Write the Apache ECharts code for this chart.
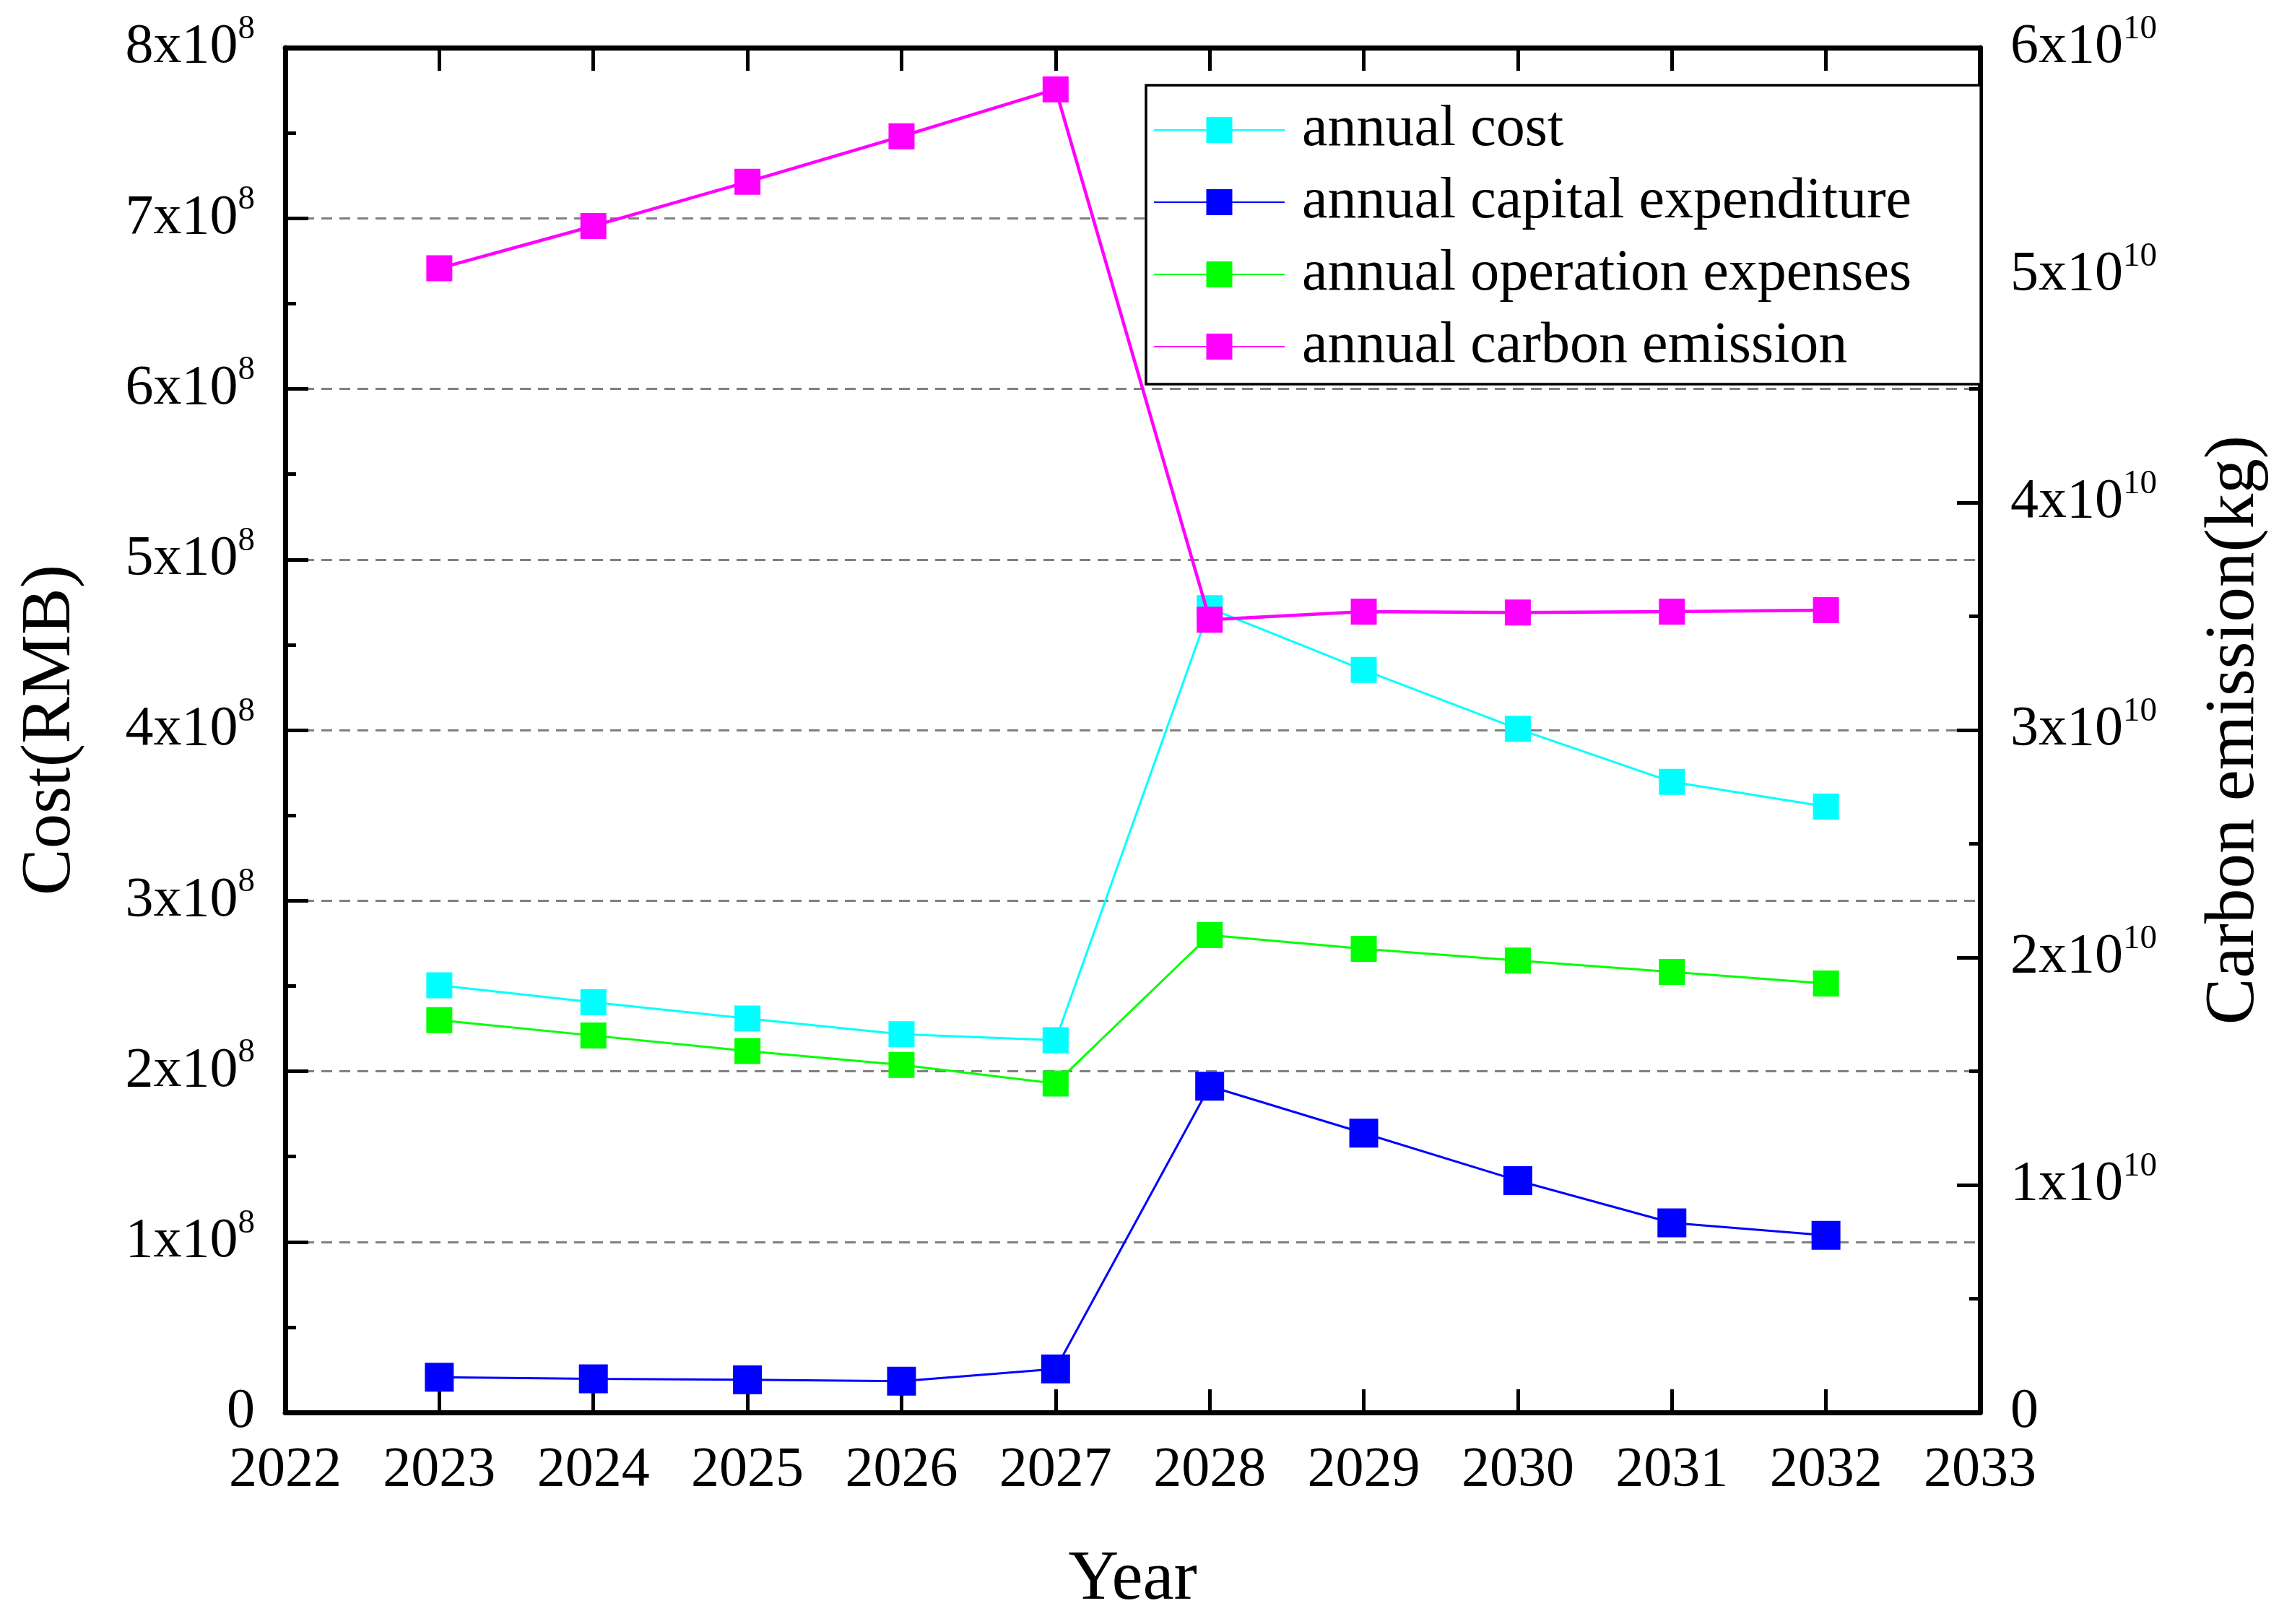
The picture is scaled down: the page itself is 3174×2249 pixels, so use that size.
<!DOCTYPE html>
<html>
<head>
<meta charset="utf-8">
<script src="https://cdn.jsdelivr.net/npm/echarts@6/dist/echarts.min.js"></script>
<style>
  html, body { margin: 0; padding: 0; background: #ffffff; }
  #chart { width: 3174px; height: 2249px; }
</style>
</head>
<body>
<div id="chart"></div>
<script>
// ---------------- data ----------------
const years = [2023, 2024, 2025, 2026, 2027, 2028, 2029, 2030, 2031, 2032];
const annualCost = [2.504e8, 2.404e8, 2.309e8, 2.217e8, 2.182e8, 4.714e8, 4.352e8, 4.007e8, 3.696e8, 3.551e8];
const annualCapex = [0.206e8, 0.197e8, 0.192e8, 0.183e8, 0.255e8, 1.912e8, 1.637e8, 1.359e8, 1.111e8, 1.038e8];
const annualOpex = [2.299e8, 2.209e8, 2.119e8, 2.037e8, 1.928e8, 2.798e8, 2.717e8, 2.649e8, 2.582e8, 2.514e8];
const annualCarbon = [5.030e10, 5.216e10, 5.410e10, 5.610e10, 5.817e10, 3.485e10, 3.521e10, 3.517e10, 3.521e10, 3.527e10];

const seriesNames = ['annual cost', 'annual capital expenditure', 'annual operation expenses', 'annual carbon emission'];

const yearTickLabels = ['2022', '2023', '2024', '2025', '2026', '2027', '2028', '2029', '2030', '2031', '2032', '2033'];
const costTickLabels = ['0', '1x10^8', '2x10^8', '3x10^8', '4x10^8', '5x10^8', '6x10^8', '7x10^8', '8x10^8'];
const carbonTickLabels = ['0', '1x10^10', '2x10^10', '3x10^10', '4x10^10', '5x10^10', '6x10^10'];

const xMin = 2022, xMax = 2033;
const costMax = 8e8, costStep = 1e8;
const carbonMax = 6e10, carbonStep = 1e10;

// ---------------- styling ----------------
const FONT = "'Liberation Serif', 'Times New Roman', serif";
const AXIS_W = 7;

function supLabel(str) {
  const parts = str.split('^');
  if (parts.length === 1) return '{b|' + parts[0] + '}';
  return '{b|' + parts[0] + '}{s|' + parts[1] + '}';
}
const richLabel = {
  b: { fontFamily: FONT, fontSize: 78, lineHeight: 98, color: '#000' },
  s: { fontFamily: FONT, fontSize: 47, lineHeight: 47, verticalAlign: 'top', color: '#000' }
};

function pairs(vals) { return years.map((y, i) => [y, vals[i]]); }

const chart = echarts.init(document.getElementById('chart'), null, { renderer: 'canvas', devicePixelRatio: 1 });

const option = {
  backgroundColor: '#ffffff',
  animation: false,
  grid: { left: 395, right: 432, top: 66, bottom: 293, containLabel: false },
  legend: {
    orient: 'vertical',
    left: 1587,
    top: 118,
    padding: [22, 96, 12, 10],
    itemGap: 20,
    itemWidth: 181,
    itemHeight: 45,
    borderColor: '#000',
    borderWidth: 3.5,
    backgroundColor: '#ffffff',
    textStyle: { fontFamily: FONT, fontSize: 80, color: '#000', padding: [0, 0, 0, 19] },
    data: seriesNames
  },
  xAxis: [
    {
      type: 'value', min: xMin, max: xMax, interval: 1, position: 'bottom',
      name: 'Year', nameLocation: 'middle', nameGap: 184,
      nameTextStyle: { fontFamily: FONT, fontSize: 97, lineHeight: 97, color: '#000' },
      axisLine: { show: true, onZero: false, lineStyle: { color: '#000', width: AXIS_W } },
      axisTick: { show: true, inside: true, length: 32, lineStyle: { color: '#000', width: 5 } },
      axisLabel: {
        fontFamily: FONT, fontSize: 78, lineHeight: 78, color: '#000', margin: 42,
        formatter: v => yearTickLabels[Math.round(v - xMin)]
      },
      splitLine: { show: false }
    },
    {
      type: 'value', min: xMin, max: xMax, interval: 1, position: 'top',
      axisLine: { show: true, onZero: false, lineStyle: { color: '#000', width: AXIS_W } },
      axisTick: { show: true, inside: true, length: 32, lineStyle: { color: '#000', width: 5 } },
      axisLabel: { show: false },
      splitLine: { show: false }
    }
  ],
  yAxis: [
    {
      type: 'value', min: 0, max: costMax, interval: costStep, position: 'left',
      name: 'Cost(RMB)', nameLocation: 'middle', nameGap: 276,
      nameTextStyle: { fontFamily: FONT, fontSize: 97, lineHeight: 97, color: '#000' },
      axisLine: { show: true, onZero: false, lineStyle: { color: '#000', width: AXIS_W } },
      axisTick: { show: true, inside: true, length: 32, lineStyle: { color: '#000', width: 5 } },
      minorTick: { show: true, splitNumber: 2, length: 15, lineStyle: { color: '#000', width: 5 } },
      axisLabel: {
        margin: 42, align: 'right',
        formatter: v => supLabel(costTickLabels[Math.round(v / costStep)]),
        rich: richLabel
      },
      splitLine: { show: true, lineStyle: { color: '#808080', width: 3, type: [15, 10] } }
    },
    {
      type: 'value', min: 0, max: carbonMax, interval: carbonStep, position: 'right',
      name: 'Carbon emission(kg)', nameLocation: 'middle', nameGap: 304,
      nameTextStyle: { fontFamily: FONT, fontSize: 97, lineHeight: 97, color: '#000' },
      axisLine: { show: true, onZero: false, lineStyle: { color: '#000', width: AXIS_W } },
      axisTick: { show: true, inside: true, length: 32, lineStyle: { color: '#000', width: 5 } },
      minorTick: { show: true, splitNumber: 2, length: 15, lineStyle: { color: '#000', width: 5 } },
      axisLabel: {
        margin: 42, align: 'left',
        formatter: v => supLabel(carbonTickLabels[Math.round(v / carbonStep)]),
        rich: richLabel
      },
      splitLine: { show: false }
    }
  ],
  series: [
    {
      name: seriesNames[0], type: 'line', xAxisIndex: 0, yAxisIndex: 0,
      data: pairs(annualCost), symbol: 'rect', symbolSize: 36,
      itemStyle: { color: '#00ffff' }, lineStyle: { color: '#00ffff', width: 3 }, z: 3
    },
    {
      name: seriesNames[1], type: 'line', xAxisIndex: 0, yAxisIndex: 0,
      data: pairs(annualCapex), symbol: 'rect', symbolSize: 40,
      itemStyle: { color: '#0000ff' }, lineStyle: { color: '#0000ff', width: 3 }, z: 3
    },
    {
      name: seriesNames[2], type: 'line', xAxisIndex: 0, yAxisIndex: 0,
      data: pairs(annualOpex), symbol: 'rect', symbolSize: 36,
      itemStyle: { color: '#00ff00' }, lineStyle: { color: '#00ff00', width: 3 }, z: 3
    },
    {
      name: seriesNames[3], type: 'line', xAxisIndex: 0, yAxisIndex: 1,
      data: pairs(annualCarbon), symbol: 'rect', symbolSize: 36,
      itemStyle: { color: '#ff00ff' }, lineStyle: { color: '#ff00ff', width: 4.5 }, z: 4
    }
  ]
};
chart.setOption(option);
</script>
</body>
</html>
